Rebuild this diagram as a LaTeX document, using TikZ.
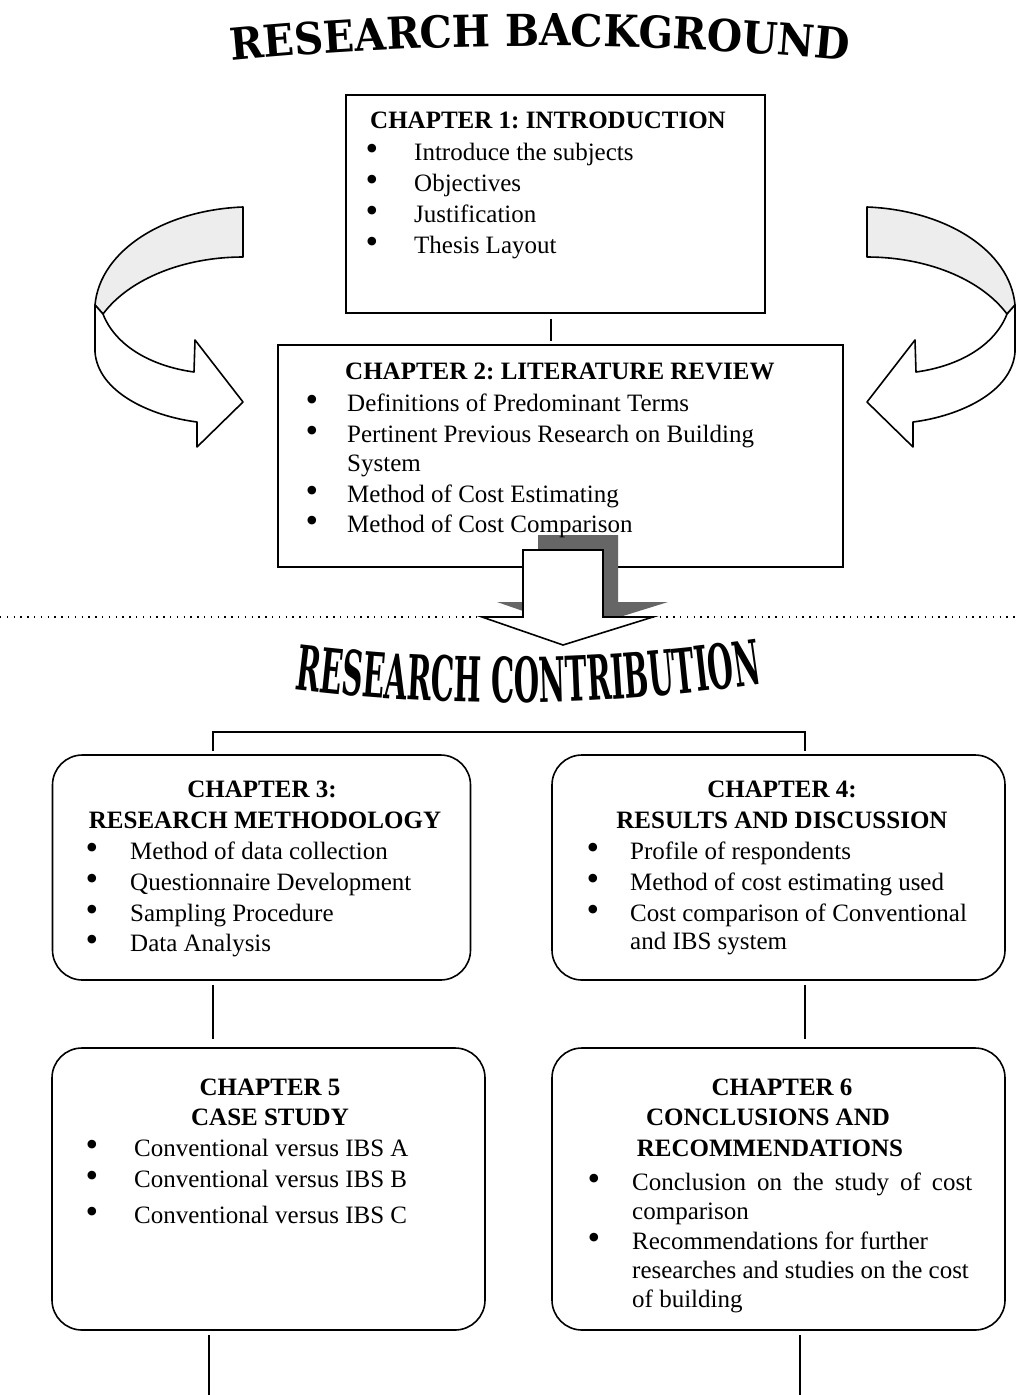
\documentclass[tikz,border=0pt]{standalone}
\usepackage{fontspec}
\setmainfont{Liberation Serif}
\newfontfamily\bgttlfont[FakeStretch=0.92]{DejaVu Serif}
\newfontfamily\contribfont[FakeStretch=0.47]{DejaVu Serif}
\usetikzlibrary{decorations.text}
\frenchspacing
\newcommand\bgfont{\bgttlfont\bfseries\fontsize{44}{44}\selectfont}
\newcommand\ctfont{\contribfont\bfseries\fontsize{62}{62}\selectfont}
\newcommand\bitem[5]{\node[bul] (#1b) at (#2,#4) {•};\node[body] (#1) at (#3,#4) {#5};}
\newcommand\tline[4]{\node[#2] (#1) at (#3) {#4};}
\newcommand\uturnshape{%
  \draw[ribbon, fill=black!7] (243,207) .. controls (165,210) and (100,250) .. (95,305)
     -- (103,314) .. controls (130,278) and (185,257) .. (243,257) -- cycle;
  \draw[ribbon, fill=white] (95,305) -- (95,352) .. controls (98,392) and (150,416) .. (197,422)
     -- (197,447) -- (243,402) -- (195,340) -- (194,372)
     .. controls (150,366) and (115,345) .. (103,314) -- cycle;}
\tikzset{
  body/.style={font=\frenchspacing\fontsize{25}{31}\selectfont, inner sep=0pt, anchor=base west},
  bul/.style={font=\fontsize{36}{36}\selectfont, inner sep=0pt, anchor=center, yshift=8pt},
  headw/.style={font=\frenchspacing\bfseries\fontsize{25}{31}\selectfont, inner sep=0pt, anchor=base west},
  headc/.style={font=\frenchspacing\bfseries\fontsize{25}{31}\selectfont, inner sep=0pt, anchor=base},
  box/.style={draw, line width=1.6pt, inner sep=0pt},
  rbox/.style={box, rounded corners=30pt},
  link/.style={line width=1.6pt},
  ribbon/.style={draw, line width=1.6pt, line join=round},
}
\begin{document}
\begin{tikzpicture}[x=1pt, y=-1pt]
\useasboundingbox (0,0) rectangle (1015,1395);
\fill[white] (0,0) rectangle (1015,1395);

% titles
\path[decorate, decoration={text along path, text align=center,
   text={|\bgfont|RESEARCH BACKGROUND}}] (150,70) .. controls (410,38) and (670,38) .. (930,70);
\path[decorate, decoration={text along path, text align=center,
   text={|\ctfont|RESEARCH CONTRIBUTION}}] (146,664) .. controls (400,719) and (655,714) .. (910,656);

% curved arrows
\uturnshape
\begin{scope}[xshift=1110pt, xscale=-1]
\uturnshape
\end{scope}

% boxes
\node[box, minimum width=419pt, minimum height=218pt] (ch1) at (555.5,204) {};
\node[box, minimum width=565pt, minimum height=222pt] (ch2) at (560.5,456) {};
\node[rbox, minimum width=418pt, minimum height=225pt] (ch3) at (261.5,867.5) {};
\node[rbox, minimum width=453pt, minimum height=225pt] (ch4) at (778.5,867.5) {};
\node[rbox, minimum width=433pt, minimum height=282pt] (ch5) at (268.5,1189) {};
\node[rbox, minimum width=453pt, minimum height=282pt] (ch6) at (778.5,1189) {};

% connectors
\coordinate (c1x) at (551,0);
\coordinate (l3) at (213,0);
\coordinate (l4) at (805,0);
\coordinate (top) at (0,732);
\coordinate (e5) at (209,1395);
\coordinate (e6) at (800,1395);
\draw[link, shorten <=5pt, shorten >=3pt] (ch1.south -| c1x) -- (ch2.north -| c1x);
\draw[link, shorten <=3pt, shorten >=3pt] (ch3.north -| l3) -- (top -| l3) -- (top -| l4) -- (ch4.north -| l4);
\draw[link, shorten <=4pt, shorten >=8pt] (ch3.south -| l3) -- (ch5.north -| l3);
\draw[link, shorten <=4pt, shorten >=8pt] (ch4.south -| l4) -- (ch6.north -| l4);
\draw[link, shorten <=4pt] (ch5.south -| e5) -- (e5);
\draw[link, shorten <=4pt] (ch6.south -| e6) -- (e6);

% dotted separator
\coordinate (dl) at (0,617);
\coordinate (dr) at (1015,617);
\draw[line width=1.3pt, dash pattern=on 1.3pt off 5.5pt] (dl) -- (dr);

% down block arrow with shadow
\fill[black!60] (538,535) -- (618,535) -- (618,602) -- (668,602) -- (578,630) -- (497,602) -- (538,602) -- cycle;
\draw[ribbon, fill=white, line join=miter] (523,550) -- (603,550) -- (603,617) -- (653,617) -- (563,645) -- (482,617) -- (523,617) -- cycle;

% chapter 1
\tline{h1}{headw}{370,128}{CHAPTER 1: INTRODUCTION}
\bitem{a1}{372}{414}{160}{Introduce the subjects}
\bitem{a2}{372}{414}{191}{Objectives}
\bitem{a3}{372}{414}{222}{Justification}
\bitem{a4}{372}{414}{253}{Thesis Layout}

% chapter 2
\tline{h2}{headw}{345,379}{CHAPTER 2: LITERATURE REVIEW}
\bitem{b1}{312}{347}{411}{Definitions of Predominant Terms}
\bitem{b2}{312}{347}{442}{Pertinent Previous Research on Building}
\tline{b2c}{body}{347,471}{System}
\bitem{b3}{312}{347}{502}{Method of Cost Estimating}
\bitem{b4}{312}{347}{532}{Method of Cost Comparison}

% chapter 3
\tline{h3}{headc}{262,797}{CHAPTER 3:}
\tline{h3b}{headc}{265,828}{RESEARCH METHODOLOGY}
\bitem{c1}{92}{130}{859}{Method of data collection}
\bitem{c2}{92}{130}{890}{Questionnaire Development}
\bitem{c3}{92}{130}{921}{Sampling Procedure}
\bitem{c4}{92}{130}{951}{Data Analysis}

% chapter 4
\tline{h4}{headc}{782,797}{CHAPTER 4:}
\tline{h4b}{headc}{782,828}{RESULTS AND DISCUSSION}
\bitem{d1}{593}{630}{859}{Profile of respondents}
\bitem{d2}{593}{630}{890}{Method of cost estimating used}
\bitem{d3}{593}{630}{921}{Cost comparison of Conventional}
\tline{d3c}{body}{630,949}{and IBS system}

% chapter 5
\tline{h5}{headc}{270,1095}{CHAPTER 5}
\tline{h5b}{headc}{270,1125}{CASE STUDY}
\bitem{e1}{92}{134}{1156}{Conventional versus IBS A}
\bitem{e2}{92}{134}{1187}{Conventional versus IBS B}
\bitem{e3}{92}{134}{1223}{Conventional versus IBS C}

% chapter 6
\tline{h6}{headc}{782,1095}{CHAPTER 6}
\tline{h6b}{headc}{768,1125}{CONCLUSIONS AND}
\tline{h6c}{headc}{770,1156}{RECOMMENDATIONS}
\bitem{f1}{594}{632}{1190}{\makebox[340pt][s]{Conclusion on the study of cost}}
\tline{f1c}{body}{632,1219}{comparison}
\bitem{f2}{594}{632}{1249}{Recommendations for further}
\tline{f2c}{body}{632,1278}{researches and studies on the cost}
\tline{f2d}{body}{632,1307}{of building}
\end{tikzpicture}
\end{document}
